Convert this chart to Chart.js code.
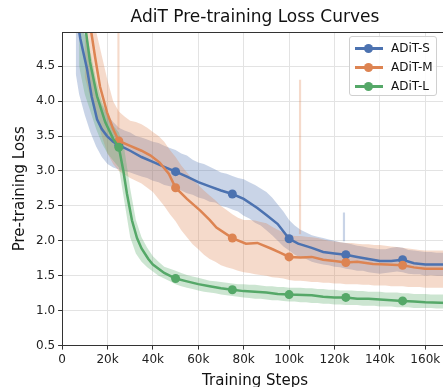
<!DOCTYPE html>
<html>
<head>
<meta charset="utf-8">
<script src="https://cdn.jsdelivr.net/npm/chart.js@4.4.1/dist/chart.umd.min.js"></script>
<style>
  html, body { margin: 0; padding: 0; background: #fff; overflow: hidden; }
  #wrap { position: relative; width: 448px; height: 390px; }
  #title {
    position: absolute; left: 62px; width: 386px; top: 6px;
    text-align: center; font: 17px "DejaVu Sans", sans-serif; color: #111;
  }
  #legend {
    position: absolute; left: 349px; top: 36px; width: 88px; height: 60px;
    border: 1px solid #d0d0d0; border-radius: 3px; background: rgba(255,255,255,0.85);
    font: 12px "DejaVu Sans", sans-serif; color: #111; box-sizing: border-box;
  }
  .row { position: absolute; left: 0; height: 19px; line-height: 19px; }
  .row .ln { position: absolute; left: 5px; top: 8px; width: 28px; height: 2.5px; }
  .row .dot { position: absolute; left: 14px; top: 4.5px; width: 9px; height: 9px; border-radius: 50%; }
  .row .tx { position: absolute; left: 41px; top: 0; white-space: nowrap; }
</style>
</head>
<body>
<div id="wrap">
  <canvas id="chart" width="448" height="390"></canvas>
  <div id="title">AdiT Pre-training Loss Curves</div>
  <div id="legend"></div>
</div>
<script>
// smoothed curves (steps in thousands)
const stepsS = [6, 8, 9, 11, 13, 15.4, 17.5, 19.8, 22.5, 25, 30, 35, 40, 45, 50, 55, 60, 65, 70, 75, 80, 86, 90, 95, 100, 104, 110, 115, 120, 125, 130, 135, 140, 145, 150, 155, 160, 165, 170];
const lossS  = [5.3, 4.9, 4.75, 4.46, 4.07, 3.74, 3.6, 3.5, 3.42, 3.37, 3.29, 3.2, 3.13, 3.06, 2.99, 2.92, 2.84, 2.78, 2.72, 2.67, 2.6, 2.47, 2.37, 2.24, 2.03, 1.96, 1.9, 1.84, 1.82, 1.80, 1.77, 1.74, 1.71, 1.71, 1.73, 1.68, 1.66, 1.66, 1.66];

const stepsM = [11, 12.8, 14.5, 16.7, 19.8, 22.5, 25, 30, 35, 39, 43, 47, 50, 55, 61, 65, 68, 75, 81, 86, 92, 96, 100, 105, 110, 115, 120, 125, 130, 137, 143, 150, 155, 160, 170];
const lossM  = [5.4, 5.0, 4.64, 4.21, 3.84, 3.6, 3.43, 3.36, 3.29, 3.22, 3.12, 2.96, 2.76, 2.6, 2.43, 2.3, 2.19, 2.04, 1.96, 1.97, 1.89, 1.83, 1.77, 1.76, 1.77, 1.73, 1.71, 1.69, 1.70, 1.67, 1.66, 1.65, 1.62, 1.60, 1.60];

const stepsL = [9, 10.5, 12.3, 15.4, 19, 22.5, 25, 27, 28.6, 30.8, 33, 35, 38, 40, 45, 50, 55, 60, 65, 70, 75, 80, 85, 90, 95, 100, 110, 115, 120, 125, 130, 135, 140, 145, 150, 155, 160, 170];
const lossL  = [5.4, 5.0, 4.56, 4.07, 3.7, 3.46, 3.34, 3.0, 2.67, 2.29, 2.04, 1.89, 1.74, 1.66, 1.54, 1.46, 1.42, 1.38, 1.35, 1.32, 1.30, 1.28, 1.27, 1.26, 1.24, 1.23, 1.22, 1.20, 1.19, 1.19, 1.17, 1.17, 1.16, 1.15, 1.14, 1.13, 1.12, 1.11];

const markerSteps = [25, 50, 75, 100, 125, 150];

// raw (unsmoothed) loss envelope, jagged like the raw traces
const bandSteps = [6, 7.5, 10, 12.5, 15, 17.5, 20, 22.5, 25, 27.5, 30, 32.5, 35, 37.5, 40, 42.5, 45, 47.5, 50, 52.5, 55, 57.5, 60, 62.5, 65, 67.5, 70, 72.5, 75, 77.5, 80, 82.5, 85, 87.5, 90, 92.5, 95, 97.5, 100, 102.5, 105, 107.5, 110, 112.5, 115, 117.5, 120, 122.5, 125, 127.5, 130, 132.5, 135, 137.5, 140, 142.5, 145, 147.5, 150, 152.5, 155, 157.5, 160, 162.5, 165, 167.5, 170];
const lowS  = [4.4, 4.1, 3.8, 3.55, 3.35, 3.2, 3.1, 3.05, 3.02, 3.0, 2.98, 2.95, 2.92, 2.9, 2.86, 2.84, 2.8, 2.78, 2.76, 2.72, 2.68, 2.66, 2.62, 2.6, 2.56, 2.55, 2.5, 2.48, 2.45, 2.42, 2.36, 2.32, 2.26, 2.22, 2.15, 2.08, 2.0, 1.92, 1.86, 1.8, 1.76, 1.74, 1.7, 1.68, 1.66, 1.65, 1.63, 1.62, 1.6, 1.59, 1.57, 1.57, 1.55, 1.54, 1.53, 1.54, 1.55, 1.56, 1.55, 1.53, 1.52, 1.52, 1.5, 1.51, 1.5, 1.5, 1.5];
const highS = [5.2, 5.1, 4.95, 4.5, 4.15, 3.95, 3.8, 3.7, 3.62, 3.58, 3.55, 3.5, 3.48, 3.45, 3.42, 3.4, 3.36, 3.33, 3.3, 3.25, 3.22, 3.16, 3.12, 3.1, 3.06, 3.02, 2.98, 2.96, 2.93, 2.9, 2.88, 2.84, 2.8, 2.75, 2.7, 2.62, 2.52, 2.42, 2.3, 2.22, 2.16, 2.12, 2.08, 2.06, 2.04, 2.02, 2.0, 1.98, 1.97, 1.95, 1.93, 1.92, 1.9, 1.89, 1.88, 1.88, 1.9, 1.91, 1.9, 1.87, 1.86, 1.85, 1.84, 1.84, 1.83, 1.83, 1.83];
const lowM  = [null, null, 4.35, 4.05, 3.8, 3.5, 3.25, 3.1, 3.0, 2.95, 2.9, 2.86, 2.82, 2.76, 2.7, 2.6, 2.5, 2.38, 2.28, 2.15, 2.05, 1.95, 1.88, 1.8, 1.74, 1.7, 1.65, 1.62, 1.6, 1.57, 1.55, 1.54, 1.52, 1.51, 1.5, 1.48, 1.47, 1.46, 1.44, 1.43, 1.43, 1.42, 1.41, 1.41, 1.4, 1.4, 1.39, 1.39, 1.38, 1.38, 1.38, 1.37, 1.37, 1.36, 1.36, 1.36, 1.35, 1.35, 1.35, 1.34, 1.34, 1.34, 1.33, 1.33, 1.33, 1.33, 1.33];
const highM = [null, null, 5.2, 5.1, 5.0, 4.65, 4.3, 4.0, 3.85, 3.78, 3.72, 3.7, 3.67, 3.62, 3.56, 3.5, 3.42, 3.3, 3.2, 3.08, 2.98, 2.88, 2.8, 2.72, 2.65, 2.58, 2.5, 2.44, 2.38, 2.33, 2.3, 2.3, 2.29, 2.27, 2.25, 2.2, 2.16, 2.12, 2.08, 2.07, 2.07, 2.06, 2.05, 2.04, 2.02, 2.0, 1.99, 1.98, 1.97, 1.97, 1.96, 1.95, 1.95, 1.94, 1.94, 1.93, 1.92, 1.91, 1.9, 1.89, 1.88, 1.87, 1.86, 1.86, 1.86, 1.86, 1.86];
const lowL  = [null, 4.5, 4.1, 3.85, 3.6, 3.4, 3.25, 3.15, 3.05, 2.55, 2.05, 1.82, 1.7, 1.62, 1.56, 1.5, 1.46, 1.42, 1.38, 1.35, 1.33, 1.31, 1.29, 1.27, 1.26, 1.25, 1.23, 1.22, 1.21, 1.2, 1.19, 1.18, 1.17, 1.17, 1.16, 1.15, 1.15, 1.14, 1.13, 1.13, 1.12, 1.12, 1.11, 1.11, 1.1, 1.1, 1.09, 1.09, 1.08, 1.08, 1.08, 1.07, 1.07, 1.07, 1.06, 1.06, 1.06, 1.05, 1.05, 1.05, 1.04, 1.04, 1.04, 1.04, 1.03, 1.03, 1.03];
const highL = [null, 5.2, 5.1, 4.7, 4.3, 4.0, 3.8, 3.65, 3.55, 3.3, 2.75, 2.3, 2.05, 1.9, 1.78, 1.7, 1.63, 1.6, 1.57, 1.54, 1.51, 1.49, 1.47, 1.45, 1.43, 1.42, 1.41, 1.4, 1.39, 1.38, 1.38, 1.37, 1.37, 1.36, 1.35, 1.35, 1.34, 1.34, 1.33, 1.33, 1.33, 1.32, 1.32, 1.31, 1.31, 1.3, 1.3, 1.29, 1.29, 1.29, 1.28, 1.28, 1.27, 1.27, 1.27, 1.26, 1.26, 1.26, 1.25, 1.25, 1.24, 1.24, 1.24, 1.23, 1.23, 1.23, 1.23];

// single tall spikes in the raw curves
const spikeStepsM = [24.5, 104.5];
const spikeBaseM  = [3.6, 2.1];
const spikeTopM   = [5.0, 4.3];
const spikeStepsS = [124.5];
const spikeBaseS  = [2.0];
const spikeTopS   = [2.4];

const xTicks = [0, 20000, 40000, 60000, 80000, 100000, 120000, 140000, 160000];
const yTicks = [0.5, 1.0, 1.5, 2.0, 2.5, 3.0, 3.5, 4.0, 4.5];

const names = ['ADiT-S', 'ADiT-M', 'ADiT-L'];
const colors = ['#4c72b0', '#dd8452', '#55a868'];
const fills = ['rgba(76,114,176,0.3)', 'rgba(221,132,82,0.3)', 'rgba(85,168,104,0.3)'];

const pts = (xs, ys) => xs.map((x, i) => ({ x: x * 1000, y: ys[i] }));
const bars = (xs, lo, hi) => xs.map((x, i) => ({ x: x * 1000, y: [lo[i], hi[i]] }));

function smoothSet(i, xs, ys) {
  return {
    type: 'line', label: names[i], data: pts(xs, ys), order: 2 - i,
    borderColor: colors[i], backgroundColor: colors[i], borderWidth: 2.5,
    tension: 0, fill: false,
    pointRadius: ctx => markerSteps.includes(xs[ctx.dataIndex]) ? 4.5 : 0,
    pointHoverRadius: 0, pointBorderWidth: 0
  };
}
function bandSets(i, lo, hi) {
  return [
    { type: 'line', data: pts(bandSteps, lo), order: 20 - i, borderWidth: 0, pointRadius: 0, fill: false, tension: 0 },
    { type: 'line', data: pts(bandSteps, hi), order: 20 - i, borderWidth: 0, pointRadius: 0, fill: '-1',
      backgroundColor: fills[i], tension: 0 }
  ];
}

const datasets = [
  ...bandSets(0, lowS, highS),
  ...bandSets(1, lowM, highM),
  ...bandSets(2, lowL, highL),
  { type: 'bar', data: bars(spikeStepsS, spikeBaseS, spikeTopS), backgroundColor: fills[0], barThickness: 1.5, order: 15 },
  { type: 'bar', data: bars(spikeStepsM, spikeBaseM, spikeTopM), backgroundColor: fills[1], barThickness: 1.5, order: 15 },
  smoothSet(0, stepsS, lossS),
  smoothSet(1, stepsM, lossM),
  smoothSet(2, stepsL, lossL)
];

// frame line on top of the plot area
const framePlugin = {
  id: 'frame',
  afterDraw(chart) {
    const { ctx, chartArea: a } = chart;
    ctx.save();
    ctx.strokeStyle = '#333';
    ctx.lineWidth = 1;
    ctx.beginPath();
    ctx.moveTo(a.left, a.top + 0.5);
    ctx.lineTo(a.right, a.top + 0.5);
    ctx.stroke();
    ctx.restore();
  }
};

const font = { family: '"DejaVu Sans", sans-serif', size: 12 };

new Chart(document.getElementById('chart'), {
  type: 'line',
  data: { datasets },
  plugins: [framePlugin],
  options: {
    responsive: false,
    animation: false,
    events: [],
    layout: { padding: { top: 32, left: 11, right: 0, bottom: 0 } },
    plugins: { legend: { display: false }, title: { display: false }, tooltip: { enabled: false } },
    scales: {
      x: {
        type: 'linear', min: 0, max: 170000, offset: false,
        afterBuildTicks: s => { s.ticks = xTicks.map(v => ({ value: v })); },
        ticks: {
          autoSkip: false, font, color: '#222', padding: 3, maxRotation: 0,
          callback: v => v === 0 ? '0' : (v / 1000) + 'k'
        },
        grid: { color: '#e3e3e3', tickColor: '#333', tickLength: 4, offset: false },
        border: { color: '#333', width: 1 },
        title: { display: true, text: 'Training Steps', font: { family: font.family, size: 15 }, color: '#111', padding: { top: 2, bottom: 0 } }
      },
      y: {
        min: 0.5, max: 4.99,
        afterBuildTicks: s => { s.ticks = yTicks.map(v => ({ value: v })); },
        ticks: {
          autoSkip: false, font, color: '#222', padding: 3,
          callback: v => v.toFixed(1)
        },
        grid: { color: '#e3e3e3', tickColor: '#333', tickLength: 4 },
        border: { color: '#333', width: 1 },
        title: { display: true, text: 'Pre-training Loss', font: { family: font.family, size: 15 }, color: '#111', padding: { top: 0, bottom: 4 } }
      }
    }
  }
});

// legend
const legend = document.getElementById('legend');
names.forEach((n, i) => {
  const row = document.createElement('div');
  row.className = 'row';
  row.style.top = (2 + i * 19) + 'px';
  row.innerHTML = `<i class="ln" style="background:${colors[i]}"></i><i class="dot" style="background:${colors[i]}"></i><span class="tx">${n}</span>`;
  legend.appendChild(row);
});
</script>
</body>
</html>
